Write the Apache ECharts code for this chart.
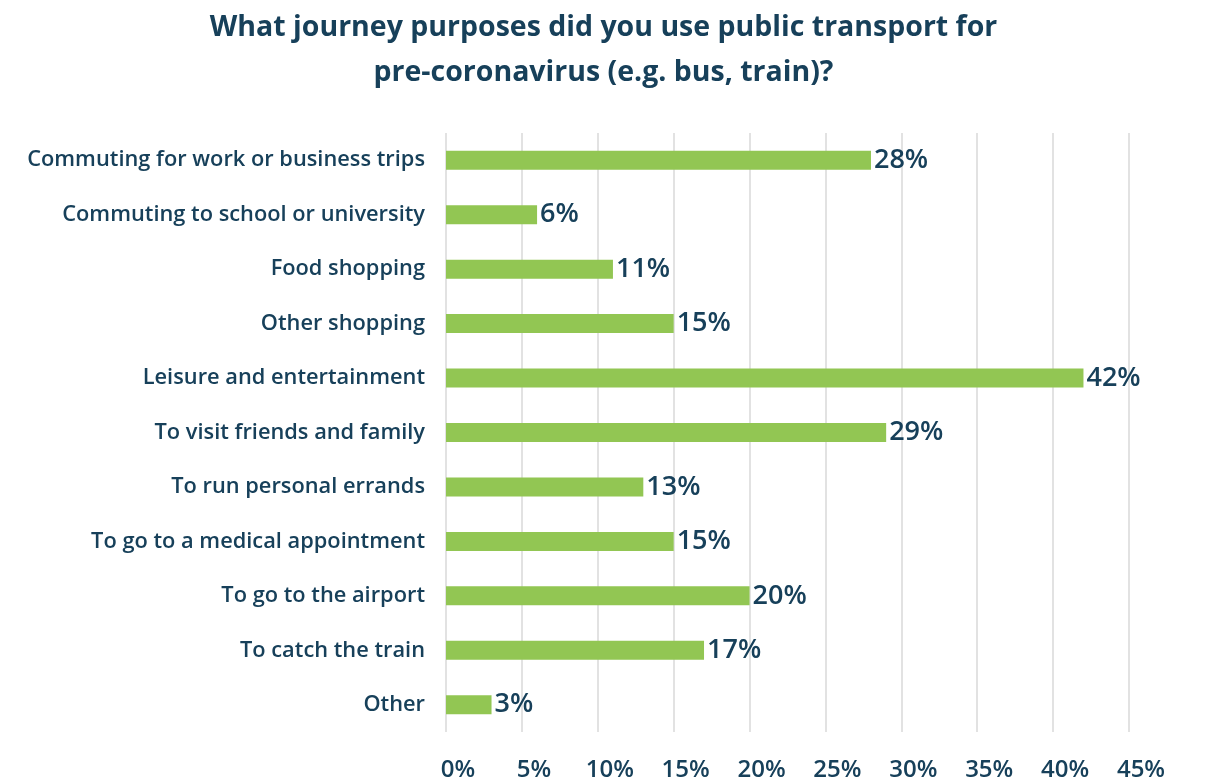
<!DOCTYPE html>
<html>
<head>
<meta charset="utf-8">
<script src="https://cdn.jsdelivr.net/npm/echarts@6/dist/echarts.min.js"></script>
<style>
  html, body { margin: 0; padding: 0; background: #ffffff; }
  #chart { width: 1207px; height: 784px; }
</style>
</head>
<body>
<div id="chart"></div>
<script>
// Survey answers, top to bottom as listed
const categories = [
  'Commuting for work or business trips',
  'Commuting to school or university',
  'Food shopping',
  'Other shopping',
  'Leisure and entertainment',
  'To visit friends and family',
  'To run personal errands',
  'To go to a medical appointment',
  'To go to the airport',
  'To catch the train',
  'Other'
];
// Share of respondents, percent
const shares = [28, 6, 11, 15, 42, 29, 13, 15, 20, 17, 3];
// Axis range and step (percent)
const axisMax = 45;
const axisStep = 5;

const ink = '#17405a';
const fontFamily = '"Open Sans", Lato, sans-serif';

const chart = echarts.init(document.getElementById('chart'), null, { renderer: 'canvas' });

chart.setOption({
  backgroundColor: '#ffffff',
  animation: false,
  title: {
    text: 'What journey purposes did you use public transport for\npre-coronavirus (e.g. bus, train)?',
    left: 'center',
    top: 0,
    textStyle: {
      color: ink,
      fontFamily: fontFamily,
      fontWeight: 'bold',
      fontSize: 28.5,
      lineHeight: 45
    }
  },
  grid: {
    left: 446,
    right: 78,
    top: 133,
    bottom: 52,
    containLabel: false
  },
  xAxis: {
    type: 'value',
    min: 0,
    max: axisMax,
    interval: axisStep,
    axisLine: { show: false },
    axisTick: { show: false },
    splitLine: { show: true, lineStyle: { color: '#d9d9d9', width: 1.5 } },
    axisLabel: {
      formatter: '{value}%',
      color: ink,
      fontFamily: fontFamily,
      fontWeight: 600,
      fontSize: 24,
      margin: 26,
      padding: [0, 0, 0, 24]
    }
  },
  yAxis: {
    type: 'category',
    data: categories,
    inverse: true,
    axisLine: { show: false },
    axisTick: { show: false },
    splitLine: { show: false },
    axisLabel: {
      color: ink,
      fontFamily: fontFamily,
      fontWeight: 600,
      fontSize: 21.8,
      margin: 21
    }
  },
  series: [{
    type: 'bar',
    data: shares,
    barWidth: 19,
    itemStyle: { color: '#92c653' },
    label: {
      show: true,
      position: 'right',
      distance: 3,
      formatter: '{c}%',
      color: ink,
      fontFamily: fontFamily,
      fontWeight: 600,
      fontSize: 27
    }
  }]
});
</script>
</body>
</html>
